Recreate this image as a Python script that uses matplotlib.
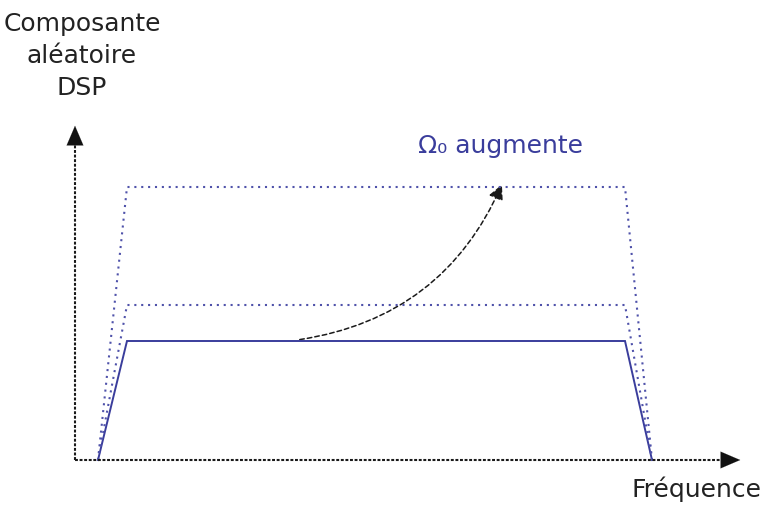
import matplotlib.pyplot as plt
from matplotlib.patches import FancyArrowPatch

# DSP trapezes (frequence, niveau) - unites arbitraires
freq_base = [23, 52, 550, 577]
niveau_omega = [119, 155, 273]          # Omega0 croissant
styles = ['-', ':', ':']

x_max = 668
y_max = 337

bleu = '#3a3d9c'

fig = plt.figure(figsize=(7.64, 5.09), dpi=100)
ax = fig.add_axes([75 / 764, 49 / 509, 689 / 764, 460 / 509])
ax.set_xlim(0, 689)
ax.set_ylim(0, 460)
ax.axis('off')

for niv, ls in zip(niveau_omega, styles):
    xs = [freq_base[0], freq_base[1], freq_base[2], freq_base[3]]
    ys = [0, niv, niv, 0]
    if ls == '-':
        ax.plot(xs, ys, color=bleu, lw=1.4, ls=ls, solid_joinstyle='miter',
                clip_on=False)
    else:
        ax.plot(xs, ys, color='#4f52aa', lw=1.5, ls=(0, (1, 2.3)),
                clip_on=False)

# axes avec fleches
ax.plot([0, x_max - 12], [0, 0], color='#1a1a1a', lw=1.5,
        ls=(0, (1.4, 0.8)), clip_on=False)
ax.plot([0, 0], [0, y_max - 12], color='#1a1a1a', lw=1.5,
        ls=(0, (1.4, 0.8)), clip_on=False)
ax.annotate('', xy=(x_max, 0), xytext=(x_max - 22, 0),
            arrowprops=dict(arrowstyle='-|>,head_length=1.4,head_width=0.6',
                            color='#111111', lw=0.1), annotation_clip=False)
ax.annotate('', xy=(0, y_max), xytext=(0, y_max - 22),
            arrowprops=dict(arrowstyle='-|>,head_length=1.4,head_width=0.6',
                            color='#111111', lw=0.1), annotation_clip=False)

# fleche courbe "Omega0 augmente"
arr = FancyArrowPatch((222, 120), (428, 278),
                      connectionstyle='arc3,rad=0.28',
                      arrowstyle='-|>,head_length=9,head_width=4.5',
                      color='#1a1a1a', lw=1.1, ls=(0, (3, 2)))
ax.add_patch(arr)

fig.text(82 / 764, 1 - 12 / 509, 'Composante\naléatoire\nDSP', ha='center',
         va='top', fontsize=18, color='#222222', linespacing=1.42,
         family='DejaVu Sans')
fig.text(696 / 764, 1 - 497 / 509, 'Fréquence', ha='center', va='baseline',
         fontsize=18, color='#222222', family='DejaVu Sans')
ax.text(343, 307, 'Ω₀ augmente', ha='left', va='baseline',
        fontsize=18, color=bleu, family='DejaVu Sans')

fig.savefig('out.png', dpi=100)
